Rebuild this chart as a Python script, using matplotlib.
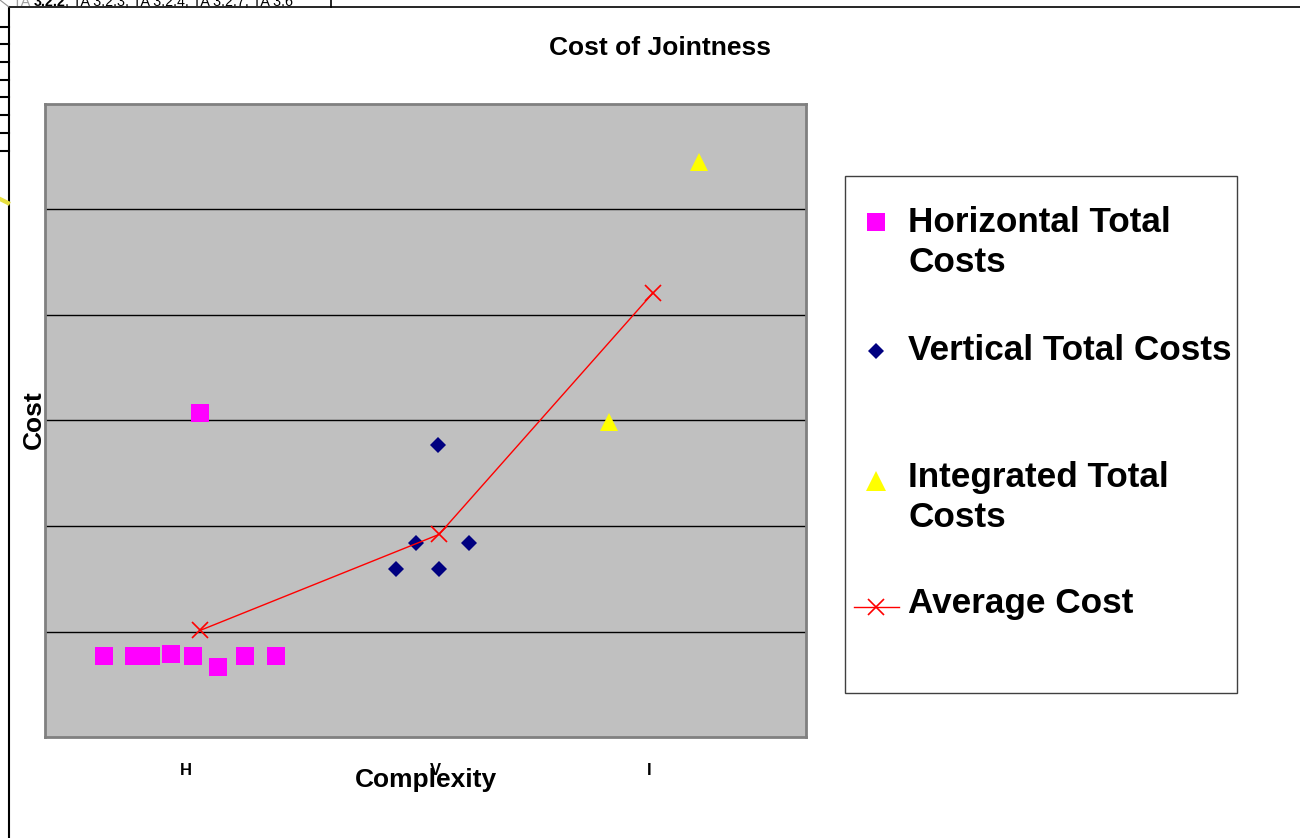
import matplotlib
matplotlib.use('Agg')
import matplotlib.pyplot as plt
from matplotlib.lines import Line2D
from matplotlib.patches import Rectangle

plt.rcParams['font.family'] = ['Liberation Sans', 'DejaVu Sans']

# ---------------- data ----------------
categories = ['H', 'V', 'I']
category_pos = [1.41, 3.90, 6.04]

horiz_x = [0.59, 0.89, 1.06, 1.26, 1.48, 1.73, 2.00, 2.31, 1.55]
horiz_y = [0.77, 0.77, 0.77, 0.79, 0.77, 0.66, 0.77, 0.77, 3.07]

vert_x = [3.93, 3.71, 4.24, 3.51, 3.94]
vert_y = [2.77, 1.84, 1.84, 1.59, 1.59]

integ_x = [6.54, 5.64]
integ_y = [5.45, 2.99]

avg_x = [1.55, 3.94, 6.08]
avg_y = [1.01, 1.92, 4.21]

series_labels = ['Horizontal Total\nCosts', 'Vertical Total Costs',
                 'Integrated Total\nCosts', 'Average Cost']

# ---------------- figure ----------------
W, H = 1300, 838
fig = plt.figure(figsize=(W / 100, H / 100), dpi=100)

def fx(px):
    return px / W

def fy(py):
    return 1 - py / H

ax = fig.add_axes([fx(45), fy(737), (806 - 45) / W, (737 - 104) / H])
ax.set_facecolor('#C0C0C0')
for s in ax.spines.values():
    s.set_color('#808080')
    s.set_linewidth(2)
ax.set_xlim(0, 7.61)
ax.set_ylim(0, 6)
ax.set_yticks([1, 2, 3, 4, 5])
ax.yaxis.grid(True, color='black', linewidth=1)
ax.set_axisbelow(True)
ax.tick_params(axis='y', length=0, labelleft=False)
ax.set_xticks(category_pos)
ax.set_xticklabels(categories, fontsize=12, fontweight='bold')
ax.tick_params(axis='x', length=0, pad=19)

mag = '#FF00FF'
navy = '#000080'
yel = '#FFFF00'

ax.plot(horiz_x, horiz_y, linestyle='none', marker='s', markersize=12.5,
        color=mag, markeredgewidth=0, zorder=3)
ax.plot(vert_x, vert_y, linestyle='none', marker='D', markersize=8.3,
        color=navy, markeredgewidth=0, zorder=3)
ax.plot(integ_x, integ_y, linestyle='none', marker='^', markersize=13,
        color=yel, markeredgewidth=0, zorder=3)
ax.plot(avg_x, avg_y, linestyle='-', linewidth=1, color='red', marker='x',
        markersize=11.3, markeredgewidth=1.2, zorder=4)

# titles / labels
fig.text(fx(660), fy(55), 'Cost of Jointness', ha='center', va='baseline',
         fontsize=19, fontweight='bold')
fig.text(fx(426), fy(787), 'Complexity', ha='center', va='baseline',
         fontsize=19, fontweight='bold')
fig.text(fx(41), fy(420), 'Cost', ha='center', va='baseline', rotation=90,
         fontsize=19, fontweight='bold', rotation_mode='anchor')

# ---------------- legend (manual) ----------------
fig.add_artist(Rectangle((fx(845), fy(693)), (1237 - 845) / W, (693 - 176) / H,
                         transform=fig.transFigure, fill=False,
                         edgecolor='#404040', linewidth=1))
fig.add_artist(Line2D([fx(876)], [fy(222)], marker='s', markersize=12.5,
                      color=mag, markeredgewidth=0, linestyle='none',
                      transform=fig.transFigure))
fig.add_artist(Line2D([fx(876)], [fy(351)], marker='D', markersize=8.3,
                      color=navy, markeredgewidth=0, linestyle='none',
                      transform=fig.transFigure))
fig.add_artist(Line2D([fx(876)], [fy(481)], marker='^', markersize=14,
                      color=yel, markeredgewidth=0, linestyle='none',
                      transform=fig.transFigure))
fig.add_artist(Line2D([fx(854), fx(899)], [fy(607), fy(607)], marker=None,
                      color='red', linewidth=1, transform=fig.transFigure))
fig.add_artist(Line2D([fx(876)], [fy(607)], marker='x', markersize=11,
                      color='red', markeredgewidth=1.2, linestyle='none',
                      transform=fig.transFigure))

leg_baselines = [[232, 272], [360], [487, 527], [613]]
for lab, bls in zip(series_labels, leg_baselines):
    for line, bl in zip(lab.split('\n'), bls):
        fig.text(fx(908), fy(bl), line, ha='left', va='baseline',
                 fontsize=25.3, fontweight='bold')

# ---------------- page frame artifacts ----------------
fig.add_artist(Line2D([fx(9), fx(9)], [0, fy(7)], color='black', linewidth=1.5,
                      transform=fig.transFigure))
fig.add_artist(Line2D([fx(9), 1], [fy(7), fy(7)], color='black', linewidth=1.2,
                      transform=fig.transFigure))
fig.add_artist(Line2D([fx(331), fx(331)], [fy(0), fy(7)], color='black',
                      linewidth=1.2, transform=fig.transFigure))
for ty in [27, 44, 62, 80, 97, 115, 133, 151]:
    fig.add_artist(Line2D([0, fx(9)], [fy(ty), fy(ty)], color='black',
                          linewidth=1.5, transform=fig.transFigure))
fig.add_artist(Line2D([0, fx(8)], [fy(199), fy(203)], color='#E8E040',
                      linewidth=3, transform=fig.transFigure))
fig.add_artist(Line2D([0, fx(9)], [fy(0), fy(7)], color='#909090',
                      linewidth=0.8, transform=fig.transFigure))

t1 = fig.text(fx(13), fy(6), 'TA ', ha='left', va='baseline', fontsize=10.3,
              color='#A0A0A0')
t2 = fig.text(0, 0, '3.2.2', fontsize=10.3, fontweight='bold')
t3 = fig.text(0, 0, ', TA 3.2.3, TA 3.2.4, TA 3.2.7, TA 3.6', fontsize=10.3)
r = fig.canvas.get_renderer()
bb1 = t1.get_window_extent(r)
t2.set_position((bb1.x1 / W, fy(6)))
t2.set_va('baseline')
bb2 = t2.get_window_extent(r)
t3.set_position((bb2.x1 / W, fy(6)))
t3.set_va('baseline')

fig.savefig('out.png', dpi=100)
